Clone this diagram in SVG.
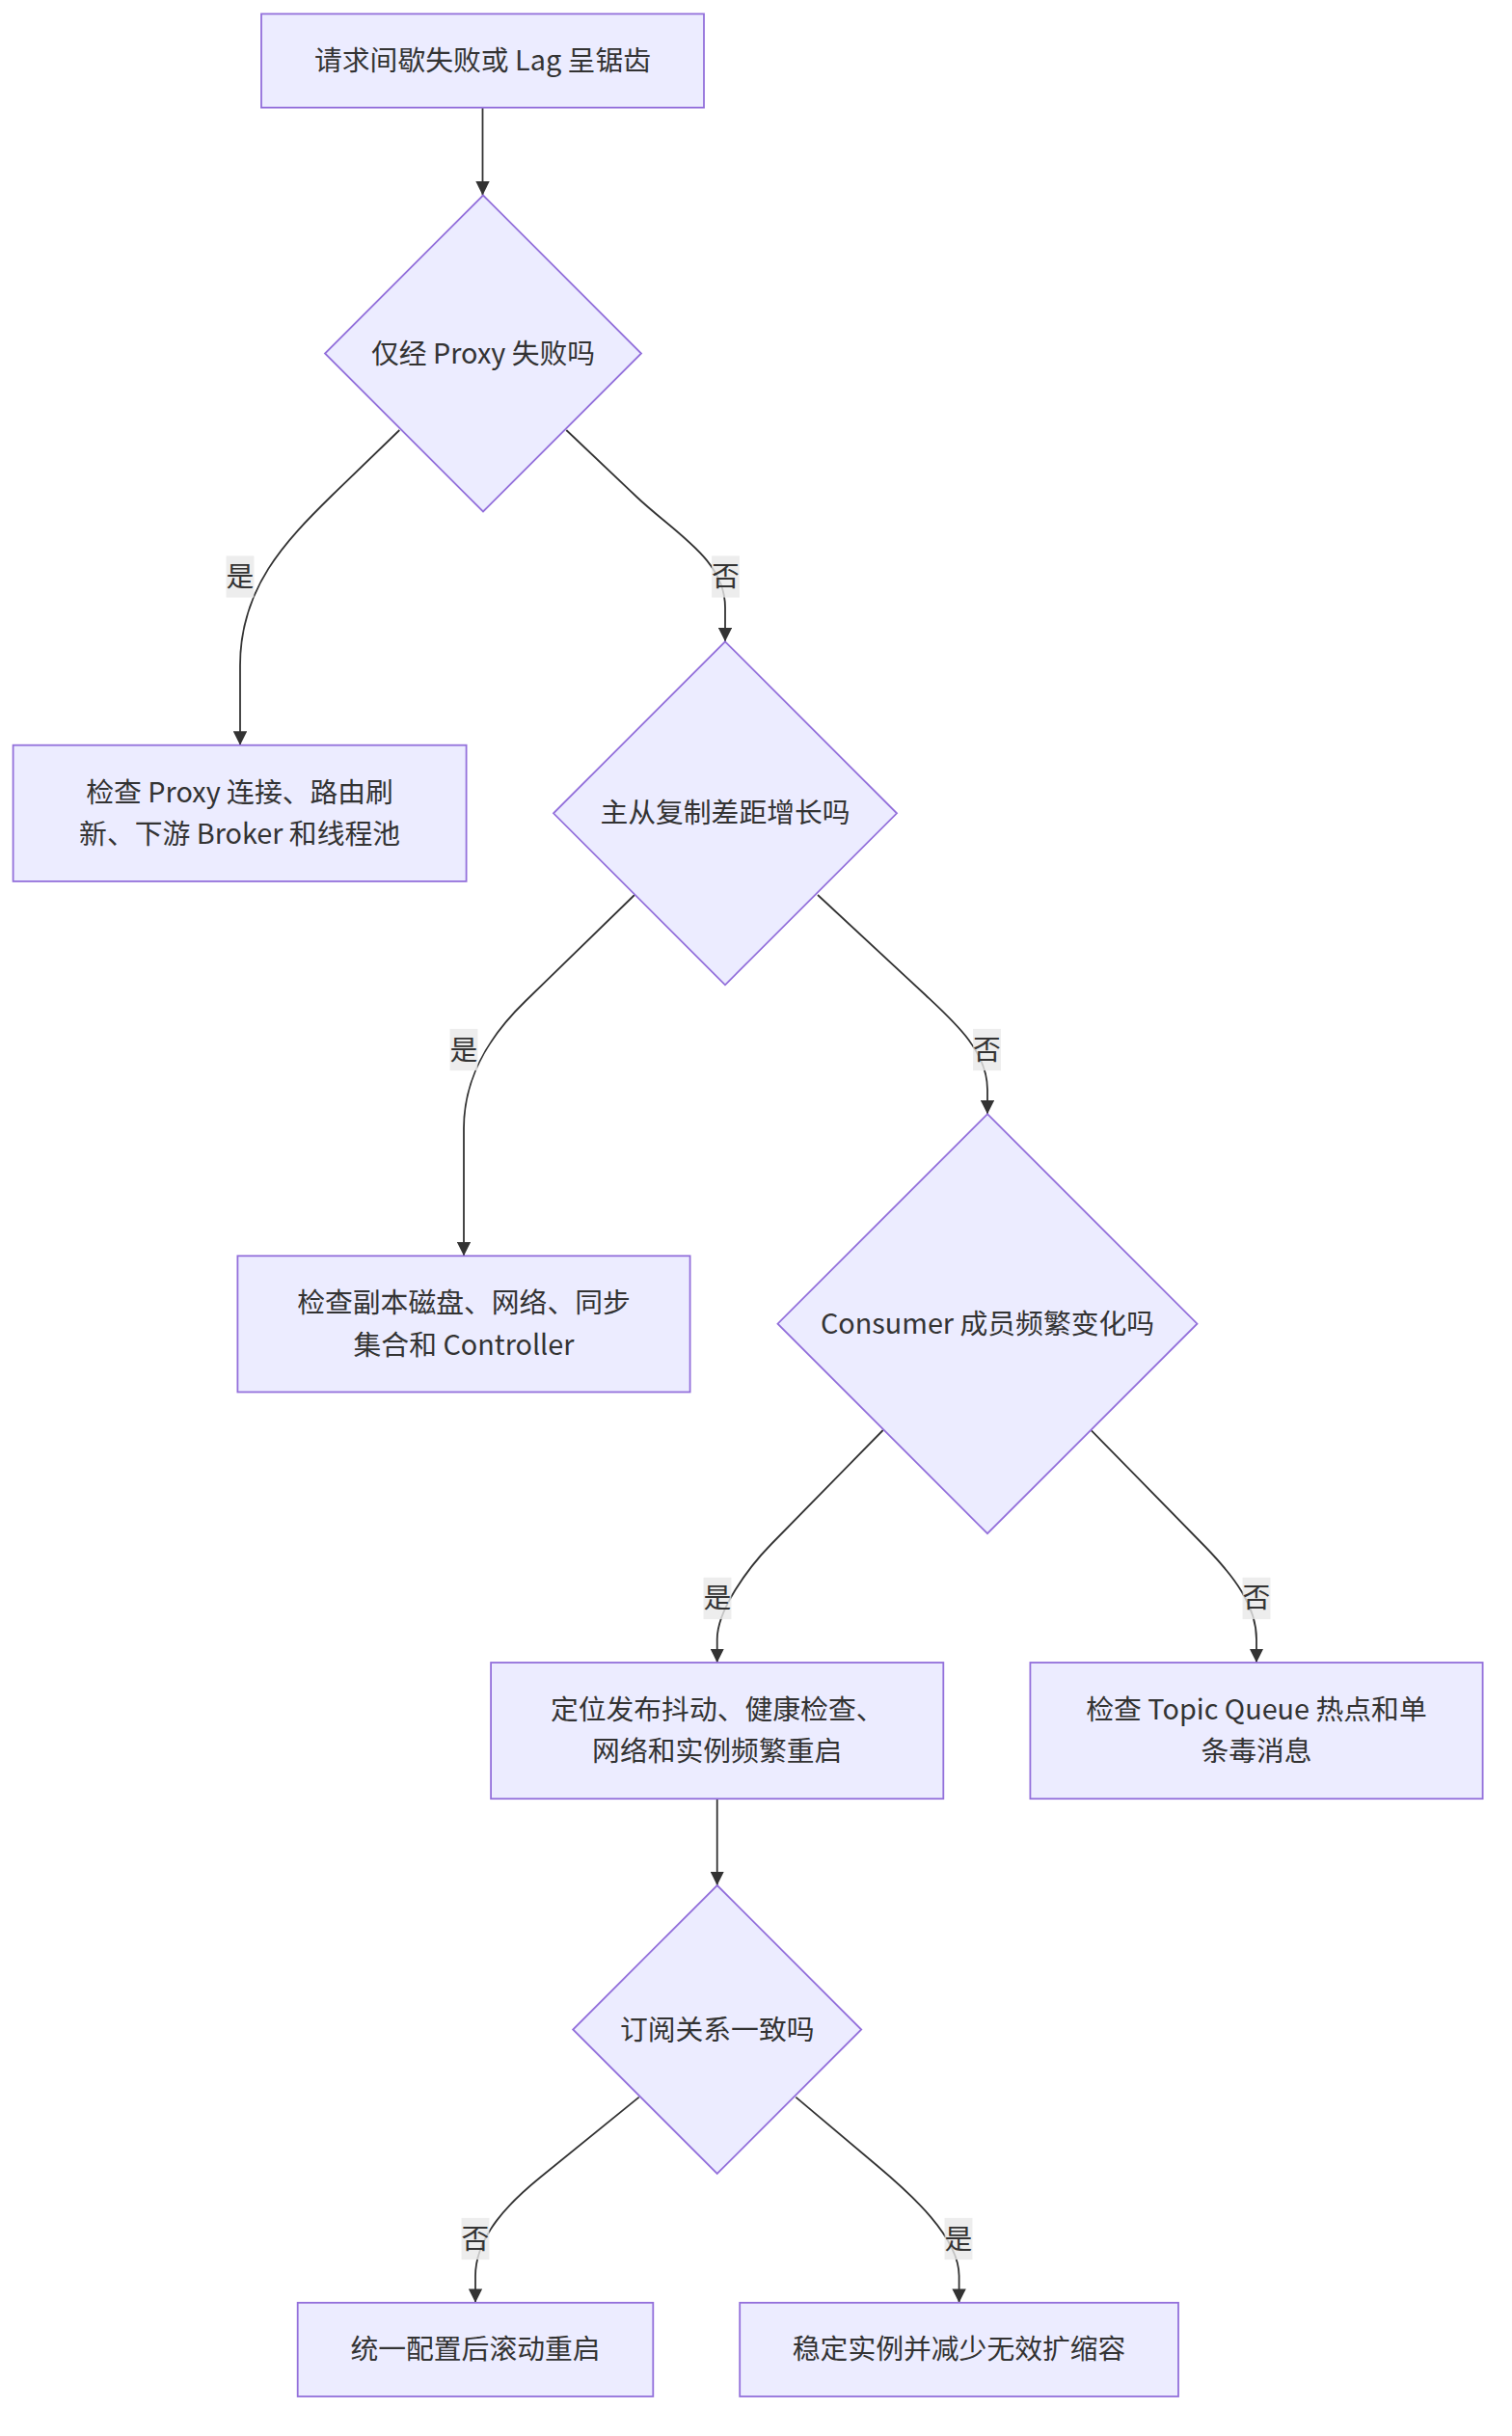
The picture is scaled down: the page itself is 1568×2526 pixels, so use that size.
<svg xmlns="http://www.w3.org/2000/svg" width="1568" height="2526" viewBox="0 0 1568 2526">
<style>
.node rect, .node polygon { fill: #ECECFF; stroke: #9370DB; stroke-width: 1.8; }
.node text { font-family: "Noto Sans CJK SC", "Noto Sans", sans-serif; font-size: 28.8px; fill: #333333; text-anchor: middle; dominant-baseline: central; }
.edge { fill: none; stroke: #333333; stroke-width: 1.8; marker-end: url(#arrow); }
.lbl rect { fill: #e8e8e8; fill-opacity: 0.8; }
.lbl text { font-family: "Noto Sans CJK SC", "Noto Sans", sans-serif; font-size: 28.8px; fill: #333333; text-anchor: middle; dominant-baseline: central; }
</style>
<defs>
<marker id="arrow" markerUnits="userSpaceOnUse" markerWidth="14.4" markerHeight="14.4" viewBox="0 0 10 10" refX="10" refY="5" orient="auto">
<path d="M0,0 L10,5 L0,10 z" fill="#333333"/>
</marker>
</defs>
<rect x="0" y="0" width="1568" height="2526" fill="#ffffff"/>
<g id="edges">
<path class="edge" d="M500.5,111.6 L500.5,202.5"/>
<path class="edge" d="M414.3,446 L345,513 C295,562 249,610 249,690 L249,772.7"/>
<path class="edge" d="M587.3,446 L660,515 C700,553 752,580 752,630 L752,665.3"/>
<path class="edge" d="M658,928 L545,1038 C515,1067 481,1110 481,1170 L481,1302.3"/>
<path class="edge" d="M848,928 L960,1032 C990,1060 1024,1090 1024,1130 L1024,1155.2"/>
<path class="edge" d="M915.7,1483 L800,1601 C775,1626.5 743.7,1670 743.7,1700 L743.7,1724"/>
<path class="edge" d="M1131.8,1483.3 L1250,1604 C1280,1635 1303,1665 1303,1700 L1303,1724"/>
<path class="edge" d="M743.7,1865 L743.7,1955"/>
<path class="edge" d="M662.7,2174.6 L560,2258 C530,2282.4 493,2318 493,2360 L493,2387.8"/>
<path class="edge" d="M825.3,2174.6 L910,2246 C945,2275.5 994.6,2320 994.6,2360 L994.6,2387.8"/>
</g>
<g id="edge-labels">
<g class="lbl"><rect x="234.6" y="576.4" width="28.8" height="43.2"/><text x="249" y="595.5">是</text></g>
<g class="lbl"><rect x="738.1" y="576.4" width="28.8" height="43.2"/><text x="752.5" y="595.5">否</text></g>
<g class="lbl"><rect x="466.6" y="1066.9" width="28.8" height="43.2"/><text x="481" y="1086">是</text></g>
<g class="lbl"><rect x="1009.1" y="1066.9" width="28.8" height="43.2"/><text x="1023.5" y="1086">否</text></g>
<g class="lbl"><rect x="729.6" y="1635.8" width="28.8" height="43.2"/><text x="744" y="1654.9">是</text></g>
<g class="lbl"><rect x="1288.6" y="1635.8" width="28.8" height="43.2"/><text x="1303" y="1654.9">否</text></g>
<g class="lbl"><rect x="478.6" y="2299.9" width="28.8" height="43.2"/><text x="493" y="2319">否</text></g>
<g class="lbl"><rect x="979.6" y="2299.9" width="28.8" height="43.2"/><text x="994" y="2319">是</text></g>
</g>
<g id="A" class="node"><rect x="271" y="14.4" width="459" height="97.2"/><text x="500.5" y="60.5">请求间歇失败或 Lag 呈锯齿</text></g>
<g id="B" class="node"><polygon points="501,202.5 665,366.5 501,530.5 337,366.5"/><text x="501" y="364">仅经 Proxy 失败吗</text></g>
<g id="C" class="node"><rect x="13.6" y="772.7" width="470" height="141.2"/><text x="248.6" y="819.2">检查 Proxy 连接、路由刷</text><text x="248.6" y="862.4">新、下游 Broker 和线程池</text></g>
<g id="D" class="node"><polygon points="752,665.3 930,843.3 752,1021.3 574,843.3"/><text x="752" y="840.8">主从复制差距增长吗</text></g>
<g id="E" class="node"><polygon points="1024,1155.2 1241.5,1372.7 1024,1590.2 806.5,1372.7"/><text x="1024" y="1370.2">Consumer 成员频繁变化吗</text></g>
<g id="F" class="node"><rect x="246.4" y="1302.3" width="469.2" height="141.2"/><text x="481" y="1348.8">检查副本磁盘、网络、同步</text><text x="481" y="1392">集合和 Controller</text></g>
<g id="G" class="node"><rect x="509.1" y="1724" width="469.2" height="141.2"/><text x="743.7" y="1770.5">定位发布抖动、健康检查、</text><text x="743.7" y="1813.7">网络和实例频繁重启</text></g>
<g id="H" class="node"><rect x="1068.4" y="1724" width="469.2" height="141.2"/><text x="1303" y="1770.5">检查 Topic Queue 热点和单</text><text x="1303" y="1813.7">条毒消息</text></g>
<g id="I" class="node"><polygon points="743.7,1955 893.2,2104.5 743.7,2254 594.2,2104.5"/><text x="743.7" y="2102">订阅关系一致吗</text></g>
<g id="J" class="node"><rect x="308.7" y="2387.8" width="368.6" height="97.2"/><text x="493" y="2433.9">统一配置后滚动重启</text></g>
<g id="K" class="node"><rect x="767.2" y="2387.8" width="454.8" height="97.2"/><text x="994.6" y="2433.9">稳定实例并减少无效扩缩容</text></g>
</svg>
